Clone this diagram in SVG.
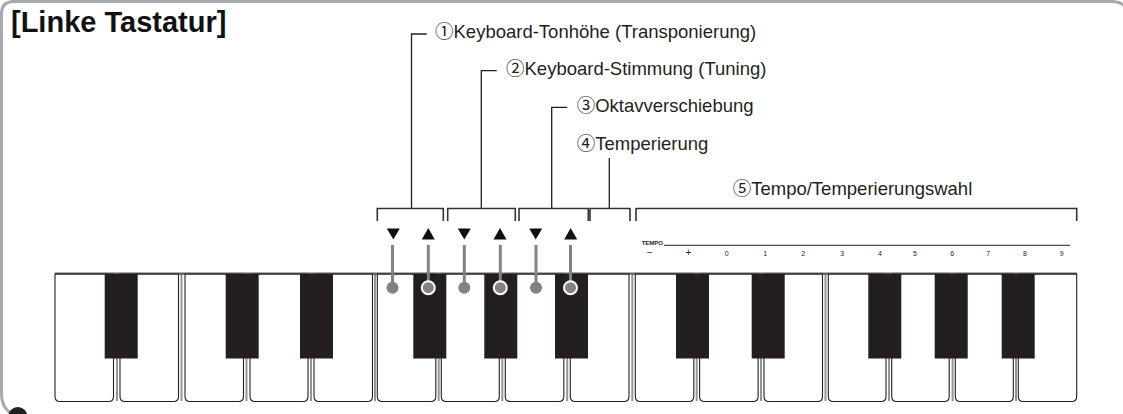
<svg xmlns="http://www.w3.org/2000/svg" xmlns:xlink="http://www.w3.org/1999/xlink" width="1123" height="414" viewBox="0 0 1123 414">
<style>
.lbl{font-family:"Liberation Sans","Noto Sans CJK JP",sans-serif;font-size:18.5px;fill:#231f20}
.ttl{font-family:"Liberation Sans",Arial,sans-serif;font-size:29px;font-weight:bold;fill:#111}
.tiny{font-family:"Liberation Sans",sans-serif;font-size:6px;font-weight:bold;fill:#231f20}
.dig{font-family:"Liberation Sans",sans-serif;font-size:7px;fill:#231f20;text-anchor:middle}
.sgn{font-family:"Liberation Sans",sans-serif;font-size:10px;fill:#231f20;text-anchor:middle}
.lead{fill:none;stroke:#231f20;stroke-width:1.3}
.brk{fill:none;stroke:#333;stroke-width:1.6}
.stem{stroke:#808285;stroke-width:3}
.wk{fill:#fff;stroke:#231f20;stroke-width:1.1}
.bk{fill:#231f20}
.gap{stroke:#939598;stroke-width:2}
.tri{fill:#111}
</style>
<defs>
<polygon id="dn" class="tri" points="-6.5,228.5 6.5,228.5 0,239.5"/>
<polygon id="up" class="tri" points="-6.5,239.5 6.5,239.5 0,228"/>
</defs>
<rect width="1123" height="414" fill="#fff"/>
<g id="frame">
<path d="M1.5,395 V14 Q1.5,1.5 14,1.5 H1111 Q1122,1.5 1126,8" fill="none" stroke="#a7a9ac" stroke-width="3"/>
<path d="M1.5,394 Q1.5,408 12,414" fill="none" stroke="#a7a9ac" stroke-width="3"/>
<circle cx="17.8" cy="416.5" r="9.5" fill="#231f20"/>
</g>
<g id="title"><text class="ttl" x="11" y="32">[Linke Tastatur]</text></g>
<g id="label1"><text class="lbl" x="435" y="37.5">①Keyboard-Tonhöhe (Transponierung)</text></g>
<g id="label2"><text class="lbl" x="506" y="74.5">②Keyboard-Stimmung (Tuning)</text></g>
<g id="label3"><text class="lbl" x="576.7" y="111.5">③Oktavverschiebung</text></g>
<g id="label4"><text class="lbl" x="576.7" y="150">④Temperierung</text></g>
<g id="label5"><text class="lbl" x="732.7" y="195">⑤Tempo/Temperierungswahl</text></g>
<g id="keyboard">
<line x1="55" y1="273" x2="1077" y2="273" stroke="#939598" stroke-width="1.5"/>
<g>
<line class="gap" x1="117" y1="274" x2="117" y2="401"/>
<line class="gap" x1="181.5" y1="274" x2="181.5" y2="401"/>
<line class="gap" x1="246.5" y1="274" x2="246.5" y2="401"/>
<line class="gap" x1="311" y1="274" x2="311" y2="401"/>
<line class="gap" x1="375" y1="274" x2="375" y2="401"/>
<line class="gap" x1="438.7" y1="274" x2="438.7" y2="401"/>
<line class="gap" x1="502.3" y1="274" x2="502.3" y2="401"/>
<line class="gap" x1="567.2" y1="274" x2="567.2" y2="401"/>
<line class="gap" x1="632.3" y1="274" x2="632.3" y2="401"/>
<line class="gap" x1="696.7" y1="274" x2="696.7" y2="401"/>
<line class="gap" x1="761" y1="274" x2="761" y2="401"/>
<line class="gap" x1="825.5" y1="274" x2="825.5" y2="401"/>
<line class="gap" x1="889" y1="274" x2="889" y2="401"/>
<line class="gap" x1="952.6" y1="274" x2="952.6" y2="401"/>
<line class="gap" x1="1016" y1="274" x2="1016" y2="401"/>
</g>
<g id="whitekeys">
<path class="wk" d="M55,274 V396.5 Q55,401.5 60,401.5 H108.5 Q113.5,401.5 113.5,396.5 V274 Z"/>
<path class="wk" d="M120,274 V396.5 Q120,401.5 125,401.5 H173.5 Q178.5,401.5 178.5,396.5 V274 Z"/>
<path class="wk" d="M185,274 V396.5 Q185,401.5 190,401.5 H238.5 Q243.5,401.5 243.5,396.5 V274 Z"/>
<path class="wk" d="M250,274 V396.5 Q250,401.5 255,401.5 H303 Q308,401.5 308,396.5 V274 Z"/>
<path class="wk" d="M314,274 V396.5 Q314,401.5 319,401.5 H367.5 Q372.5,401.5 372.5,396.5 V274 Z"/>
<path class="wk" d="M377.3,274 V396.5 Q377.3,401.5 382.3,401.5 H430.8 Q435.8,401.5 435.8,396.5 V274 Z"/>
<path class="wk" d="M441.3,274 V396.5 Q441.3,401.5 446.3,401.5 H494.3 Q499.3,401.5 499.3,396.5 V274 Z"/>
<path class="wk" d="M505.3,274 V396.5 Q505.3,401.5 510.3,401.5 H558.8 Q563.8,401.5 563.8,396.5 V274 Z"/>
<path class="wk" d="M570.3,274 V396.5 Q570.3,401.5 575.3,401.5 H624 Q629,401.5 629,396.5 V274 Z"/>
<path class="wk" d="M635.3,274 V396.5 Q635.3,401.5 640.3,401.5 H688.8 Q693.8,401.5 693.8,396.5 V274 Z"/>
<path class="wk" d="M699.6,274 V396.5 Q699.6,401.5 704.6,401.5 H753.1 Q758.1,401.5 758.1,396.5 V274 Z"/>
<path class="wk" d="M764,274 V396.5 Q764,401.5 769,401.5 H817.5 Q822.5,401.5 822.5,396.5 V274 Z"/>
<path class="wk" d="M828.3,274 V396.5 Q828.3,401.5 833.3,401.5 H881 Q886,401.5 886,396.5 V274 Z"/>
<path class="wk" d="M891.7,274 V396.5 Q891.7,401.5 896.7,401.5 H944.2 Q949.2,401.5 949.2,396.5 V274 Z"/>
<path class="wk" d="M955.3,274 V396.5 Q955.3,401.5 960.3,401.5 H1008.3 Q1013.3,401.5 1013.3,396.5 V274 Z"/>
<path class="wk" d="M1018.3,274 V396.5 Q1018.3,401.5 1023.3,401.5 H1071.7 Q1076.7,401.5 1076.7,396.5 V274 Z"/>
</g>
<line x1="55" y1="274" x2="1076.7" y2="274" stroke="#231f20" stroke-width="1.2"/>
<g id="blackkeys">
<rect class="bk" x="104.7" y="274" width="33" height="84.5"/>
<rect class="bk" x="225.7" y="274" width="33" height="84.5"/>
<rect class="bk" x="300" y="274" width="33" height="84.5"/>
<rect class="bk" x="413.3" y="274" width="33" height="84.5"/>
<rect class="bk" x="484.3" y="274" width="33" height="84.5"/>
<rect class="bk" x="555" y="274" width="33" height="84.5"/>
<rect class="bk" x="676" y="274" width="33" height="84.5"/>
<rect class="bk" x="751.7" y="274" width="33" height="84.5"/>
<rect class="bk" x="868.3" y="274" width="33" height="84.5"/>
<rect class="bk" x="934.7" y="274" width="33" height="84.5"/>
<rect class="bk" x="1001.7" y="274" width="33" height="84.5"/>
</g>
</g>
<g id="tempo-scale">
<text class="tiny" x="641.7" y="245">TEMPO</text>
<line x1="664" y1="245.3" x2="1070" y2="245.3" stroke="#231f20" stroke-width="1"/>
<text class="sgn" x="650" y="256">−</text>
<text class="sgn" x="688.3" y="256">+</text>
<text class="dig" x="726.7" y="255.5">0</text>
<text class="dig" x="765.3" y="255.5">1</text>
<text class="dig" x="803.3" y="255.5">2</text>
<text class="dig" x="842.3" y="255.5">3</text>
<text class="dig" x="880" y="255.5">4</text>
<text class="dig" x="915" y="255.5">5</text>
<text class="dig" x="952.3" y="255.5">6</text>
<text class="dig" x="988.3" y="255.5">7</text>
<text class="dig" x="1025" y="255.5">8</text>
<text class="dig" x="1061.7" y="255.5">9</text>
</g>
<g id="markers">
<use xlink:href="#dn" x="393.3"/>
<use xlink:href="#up" x="428.3"/>
<use xlink:href="#dn" x="464.3"/>
<use xlink:href="#up" x="500"/>
<use xlink:href="#dn" x="535.7"/>
<use xlink:href="#up" x="570.7"/>
</g>
<g id="connectors">
<path class="lead" d="M426.7,34 H411.5 V208.5"/>
<path class="lead" d="M496.7,70.7 H481.3 V208.5"/>
<path class="lead" d="M567.3,107.3 H551.7 V208.5"/>
<path class="lead" d="M609.3,158 V208.5"/>
<path class="brk" d="M377.3,221 V208.5 H443.3 V221"/>
<path class="brk" d="M447.7,221 V208.5 H515.3 V221"/>
<path class="brk" d="M519,221 V208.5 H588.3 V221"/>
<path class="brk" d="M590,221 V208.5 H630 V221"/>
<path class="brk" d="M636,221 V208.5 H1076.7 V221"/>
<line class="stem" x1="392.5" y1="245" x2="392.5" y2="287.7"/>
<line class="stem" x1="428.3" y1="245" x2="428.3" y2="287.7"/>
<line class="stem" x1="464.3" y1="245" x2="464.3" y2="287.7"/>
<line class="stem" x1="500.3" y1="245" x2="500.3" y2="287.7"/>
<line class="stem" x1="536" y1="245" x2="536" y2="287.7"/>
<line class="stem" x1="570.5" y1="245" x2="570.5" y2="287.7"/>
<circle cx="392.5" cy="287.7" r="6" fill="#808285"/>
<circle cx="428.3" cy="287.7" r="6.5" fill="#808285" stroke="#fff" stroke-width="2"/>
<circle cx="464.3" cy="287.7" r="6" fill="#808285"/>
<circle cx="500.3" cy="287.7" r="6.5" fill="#808285" stroke="#fff" stroke-width="2"/>
<circle cx="536" cy="287.7" r="6" fill="#808285"/>
<circle cx="570.5" cy="287.7" r="6.5" fill="#808285" stroke="#fff" stroke-width="2"/>
</g>
</svg>
